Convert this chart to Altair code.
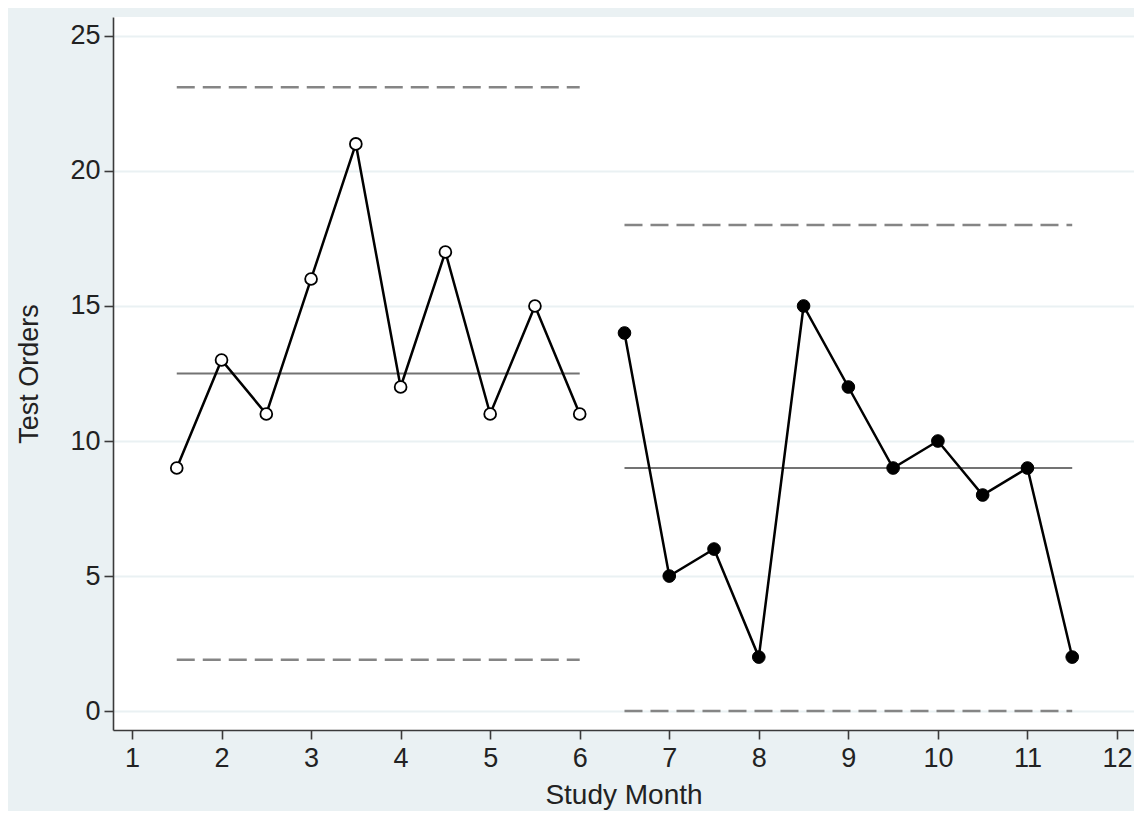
import altair as alt
import pandas as pd

# Phase 1 (open circles)
months_pre = [1.5, 2, 2.5, 3, 3.5, 4, 4.5, 5, 5.5, 6]
orders_pre = [9, 13, 11, 16, 21, 12, 17, 11, 15, 11]
# Phase 2 (filled circles)
months_post = [6.5, 7, 7.5, 8, 8.5, 9, 9.5, 10, 10.5, 11, 11.5]
orders_post = [14, 5, 6, 2, 15, 12, 9, 10, 8, 9, 2]

# Control limits per phase
phase_names = ["pre", "post"]
phase_start = [1.5, 6.5]
phase_end = [6, 11.5]
center_line = [12.5, 9]
upper_limit = [23.1, 18]
lower_limit = [1.9, 0]

x_ticks = list(range(1, 13))
y_ticks = [0, 5, 10, 15, 20, 25]

pts = pd.DataFrame({
    "month": months_pre + months_post,
    "orders": orders_pre + orders_post,
    "phase": ["pre"] * len(months_pre) + ["post"] * len(months_post),
})
lim = pd.DataFrame({
    "phase": phase_names, "start": phase_start, "end": phase_end,
    "center": center_line, "ucl": upper_limit, "lcl": lower_limit,
})
lim_long = pd.concat([
    lim[["phase", "start", "end"]].assign(val=lim["ucl"]),
    lim[["phase", "start", "end"]].assign(val=lim["lcl"]),
])

xs = alt.Scale(domain=[0.788, 12.19], nice=False, zero=False)
ys = alt.Scale(domain=[-0.7, 25.7], nice=False, zero=False)

FONT = "Liberation Sans"
xax = alt.Axis(values=x_ticks, format="d", title="Study Month", grid=False,
               titlePadding=10, labelPadding=6, labelFontSize=27, titleFontSize=28)
yax = alt.Axis(values=y_ticks, format="d", title="Test Orders", grid=True,
               titlePadding=26, labelPadding=4, labelFontSize=27, titleFontSize=27)

base = alt.Chart(pts)

dashed = alt.Chart(lim_long).mark_rule(color="#858585", strokeWidth=2.5, strokeDash=[18, 8]).encode(
    x=alt.X("start:Q", scale=xs, axis=xax),
    x2="end:Q",
    y=alt.Y("val:Q", scale=ys, axis=yax),
)
center = alt.Chart(lim).mark_rule(color="#737373", strokeWidth=2).encode(
    x=alt.X("start:Q", scale=xs),
    x2="end:Q",
    y=alt.Y("center:Q", scale=ys),
)
line = base.mark_line(color="black", strokeWidth=2.5).encode(
    x=alt.X("month:Q", scale=xs),
    y=alt.Y("orders:Q", scale=ys),
    detail="phase:N",
)
open_pts = base.transform_filter(alt.datum.phase == "pre").mark_point(
    shape="circle", filled=True, fill="white", stroke="black", strokeWidth=1.8, size=140, opacity=1
).encode(x=alt.X("month:Q", scale=xs), y=alt.Y("orders:Q", scale=ys))
filled_pts = base.transform_filter(alt.datum.phase == "post").mark_point(
    shape="circle", filled=True, fill="black", stroke="black", strokeWidth=1, size=160, opacity=1
).encode(x=alt.X("month:Q", scale=xs), y=alt.Y("orders:Q", scale=ys))

chart = alt.layer(dashed, center, line, open_pts, filled_pts).properties(
    width=1021, height=713,
    autosize=alt.AutoSizeParams(type="none"),
    padding={"left": 105, "top": 9, "right": 0, "bottom": 81},
    background="#eaf1f3",
).configure_view(
    fill="white", stroke=None,
).configure_axis(
    domainColor="#3a3a3a", domainWidth=1.6,
    tickColor="#3a3a3a", tickWidth=1.6, tickSize=9,
    labelFont=FONT, labelColor="#222222",
    titleFont=FONT, titleColor="#222222", titleFontWeight="normal",
    gridColor="#eaf1f3", gridWidth=2,
)

chart.save("out.html", embed_options={"renderer": "svg", "actions": False})
